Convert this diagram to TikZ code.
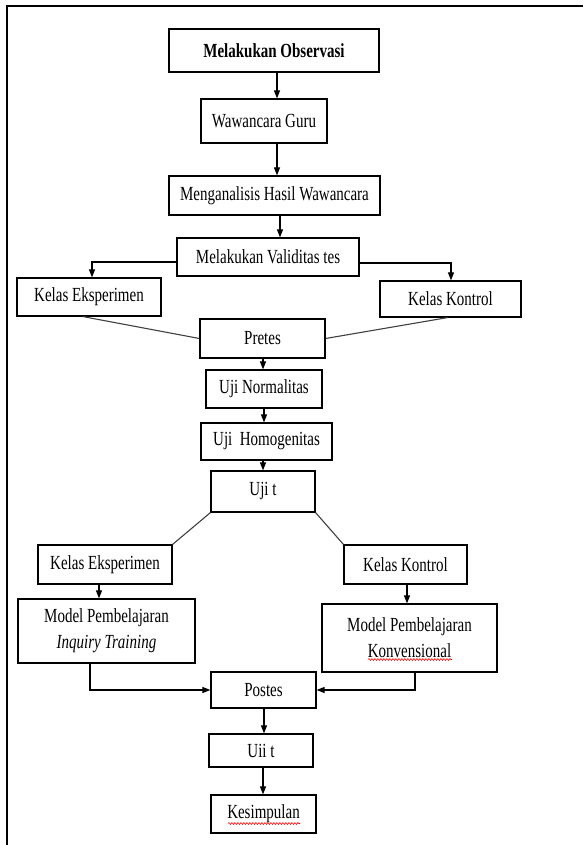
\documentclass[tikz,border=0pt]{standalone}
\usepackage{fontspec}
\setmainfont{Liberation Serif}[FakeStretch=0.75]
\usetikzlibrary{arrows.meta,decorations.pathmorphing}
\tikzset{
  box/.style={draw, line width=1.2pt, inner sep=0pt, align=center,
    font=\fontsize{20}{26}\selectfont},
  arr/.style={line width=1.1pt, -{Triangle[length=8pt,width=6pt]}},
  link/.style={line width=1.1pt, draw=black!75},
  spell/.style={draw=red, line width=0.6pt, decorate,
    decoration={snake, segment length=3pt, amplitude=0.9pt}}
}
\begin{document}
\begin{tikzpicture}[x=1pt,y=-1pt]
\useasboundingbox (0,0) rectangle (583,845);
\fill[white] (0,0) rectangle (583,845);
% frame
\draw[line width=2pt] (583,6.5) -- (6.5,6.5) -- (6.5,845);

% nodes
\node[box, minimum width=210, minimum height=43] (obs) at (274,50.5) {\textbf{Melakukan Observasi}};
\node[box, minimum width=126, minimum height=44] (wg) at (264,121) {Wawancara Guru};
\node[box, minimum width=211, minimum height=39] (mh) at (274.5,195.5) {Menganalisis Hasil Wawancara};
\node[box, minimum width=182, minimum height=38] (val) at (268,257) {Melakukan Validitas tes};
\node[box, minimum width=144, minimum height=38] (ke1) at (89,297) {Kelas Eksperimen};
\node[box, minimum width=141, minimum height=36] (kk1) at (450.5,299) {Kelas Kontrol};
\node[box, minimum width=125, minimum height=39] (pre) at (262.5,338.5) {Pretes};
\node[box, minimum width=116, minimum height=38] (un) at (264,389) {Uji Normalitas};
\node[box, minimum width=131, minimum height=37] (uh) at (266.5,441.5) {Uji~~Homogenitas};
\node[box, minimum width=104, minimum height=41] (ut1) at (263,491.5) {Uji t};
\node[box, minimum width=134, minimum height=39] (ke2) at (105,564.5) {Kelas Eksperimen};
\node[box, minimum width=123, minimum height=39] (kk2) at (405.5,564.5) {Kelas Kontrol};
\node[box, minimum width=177, minimum height=64] (m1) at (106.5,631) {Model Pembelajaran\\\textit{Inquiry Training}};
\node[box, minimum width=175, minimum height=68] (m2) at (409.5,638) {Model Pembelajaran\\Konvensional};
\node[box, minimum width=105, minimum height=36] (post) at (263.5,690) {Postes};
\node[box, minimum width=104, minimum height=33] (ut2) at (261,750.5) {Uii t};
\node[box, minimum width=105, minimum height=38] (kes) at (263.5,814) {Kesimpulan};

% x-positions of vertical arrows
\coordinate (x277) at (277,0);
\coordinate (x280) at (280,0);
\coordinate (x263) at (263,0);
\coordinate (x264) at (264,0);
\coordinate (x92) at (92,0);
\coordinate (x451) at (451,0);
\coordinate (x99) at (99,0);
\coordinate (x407) at (407,0);
\coordinate (x90) at (90,0);
\coordinate (x415) at (415,0);
\coordinate (y262) at (0,262);
\coordinate (y263) at (0,263);

% connectors
\draw[arr] (obs.south -| x277) -- (wg.north -| x277);
\draw[arr] (wg.south -| x277) -- (mh.north -| x277);
\draw[arr] (mh.south -| x280) -- (val.north -| x280);
\draw[arr] (val.west |- y262) -| (ke1.north -| x92);
\draw[arr] (val.east |- y263) -| (kk1.north -| x451);
\draw[link] ([xshift=-6pt]ke1.south) -- (pre.west);
\draw[link] ([xshift=-3pt]kk1.south) -- (pre.east);
\draw[arr] (pre.south -| x263) -- (un.north -| x263);
\draw[arr] (un.south -| x264) -- (uh.north -| x264);
\draw[arr] (uh.south -| x263) -- (ut1.north -| x263);
\draw[link] (ut1.south west) -- (ke2.north east);
\draw[link] (ut1.south east) -- (kk2.north west);
\draw[arr] (ke2.south -| x99) -- (m1.north -| x99);
\draw[arr] (kk2.south -| x407) -- (m2.north -| x407);
\draw[arr] (m1.south -| x90) |- (post.west);
\draw[arr] (m2.south -| x415) |- (post.east);
\draw[arr] (post.south -| x264) -- (ut2.north -| x264);
\draw[arr] (ut2.south -| x263) -- (kes.north -| x263);

% spell-check underlines
\draw[spell] (368,659.5) -- (452,659.5);
\draw[spell] (228,823.5) -- (300,823.5);
\end{tikzpicture}
\end{document}
